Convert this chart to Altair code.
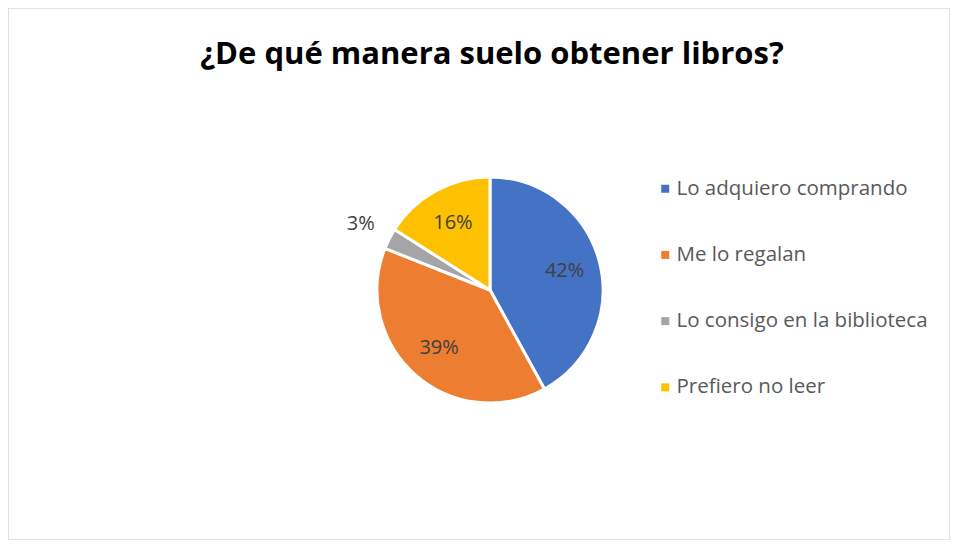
import altair as alt
import pandas as pd

categories = ["Lo adquiero comprando", "Me lo regalan", "Lo consigo en la biblioteca", "Prefiero no leer"]
values = [42, 39, 3, 16]
labels = ["42%", "39%", "3%", "16%"]
colors = ["#4472C4", "#ED7D31", "#A5A5A5", "#FFC000"]

df = pd.DataFrame({"cat": categories, "value": values, "label": labels})

FONT = "Open Sans"
CX, CY = 482, 282

base = alt.Chart(df).transform_window(idx="row_number()").encode(
    theta=alt.Theta("value:Q", stack=True),
    order=alt.Order("idx:Q"),
    x=alt.value(CX),
    y=alt.value(CY),
)

pie = base.mark_arc(outerRadius=113, stroke="white", strokeWidth=3).encode(
    color=alt.Color(
        "cat:N",
        sort=categories,
        scale=alt.Scale(domain=categories, range=colors),
        legend=alt.Legend(
            title=None,
            orient="none",
            legendX=647,
            legendY=170.5,
            symbolType="square",
            symbolSize=64,
            symbolStrokeWidth=0,
            labelFont=FONT,
            labelFontSize=20.5,
            labelColor="#595959",
            labelOffset=1,
            labelLimit=400,
            rowPadding=45.2,
            padding=0,
        ),
    )
)

inner = base.mark_text(radius=77, font=FONT, fontSize=20, color="#404040", baseline="middle").encode(
    text="label:N",
    opacity=alt.condition("datum.value < 5", alt.value(0), alt.value(1)),
)

outer = base.mark_text(radius=145, font=FONT, fontSize=20, color="#404040", baseline="middle").encode(
    text="label:N",
    opacity=alt.condition("datum.value < 5", alt.value(1), alt.value(0)),
)

chart = alt.layer(pie, inner, outer).properties(
    width=942,
    height=532,
    autosize=alt.AutoSizeParams(type="none"),
    padding=0,
    title=alt.Title(
        "¿De qué manera suelo obtener libros?",
        font=FONT,
        fontSize=31,
        fontWeight="bold",
        color="#000000",
        anchor="middle",
        offset=-63,
        dx=13,
    ),
).configure_view(stroke="#D9D9D9", strokeWidth=1.5)

chart.save("out.html", embed_options={"renderer": "svg", "actions": False})
